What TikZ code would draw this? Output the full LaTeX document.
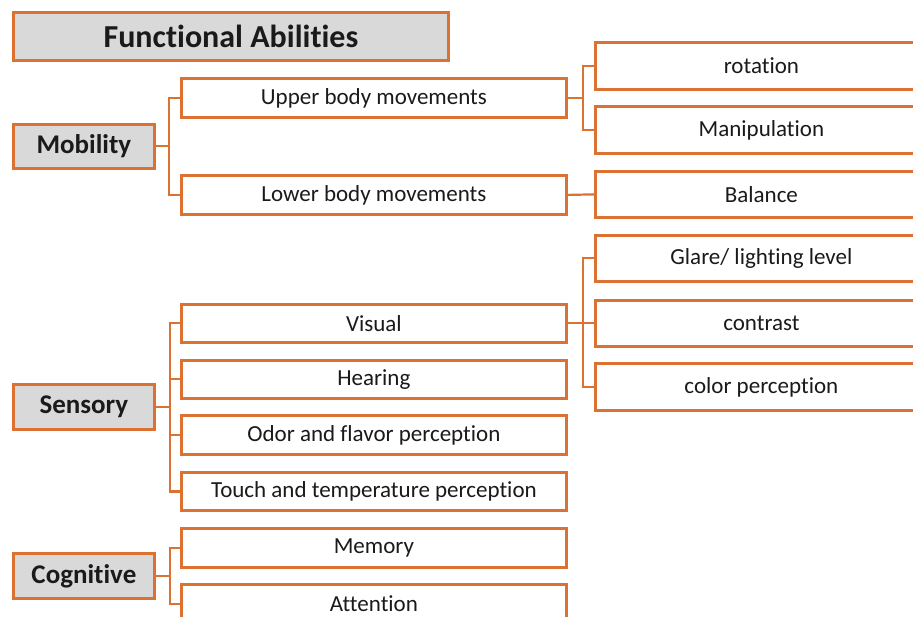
\documentclass[tikz,border=0pt]{standalone}
\usepackage{fontspec}
\setmainfont{Carlito}[RawFeature={-liga;-dlig;-clig;-calt}]
\definecolor{edge}{HTML}{DC7232}
\definecolor{catfill}{HTML}{D9D9D9}
\definecolor{ink}{HTML}{1A1A1A}
% keeps t and i as separate glyphs
\newcommand{\ti}{t\kern0pt i}
\tikzset{
  box/.style={draw=edge, line width=2.8pt, fill=white, anchor=north west,
    inner sep=0pt, text=ink, font=\fontsize{23}{25}\selectfont},
  catbox/.style={box, fill=catfill, font=\fontsize{27}{29}\selectfont\bfseries},
  titlebox/.style={box, fill=catfill, font=\fontsize{32}{34}\selectfont\bfseries},
  link/.style={draw=edge, line width=2.2pt},
}
\newcommand{\bx}[6]{\node[#1, minimum width=#4pt, minimum height=#5pt] (#2) at (#3) {#6};}
\begin{document}
\begin{tikzpicture}[x=1pt,y=-1pt]
\useasboundingbox (0,0) rectangle (913,617);
\clip (0,0) rectangle (913,617);
\fill[white] (0,0) rectangle (913,617);

% heading and category boxes
\bx{titlebox}{title}{12,11}{435}{48}{Func\ti onal Abili\ti es}
\bx{catbox}{mob}{12,123}{141}{44}{Mobility}
\bx{catbox}{sens}{12,383}{141}{45}{Sensory}
\bx{catbox}{cog}{12,552}{141}{45}{Cogni\ti ve}

% second level
\bx{box}{upper}{180,77}{385}{39}{Upper body movements}
\bx{box}{lower}{180,174}{385}{39}{Lower body movements}
\bx{box}{visual}{180,303}{385}{38}{Visual}
\bx{box}{hearing}{180,359}{385}{38}{Hearing}
\bx{box}{odor}{180,414}{385}{39}{Odor and flavor percep\ti on}
\bx{box}{touch}{180,471}{385}{38}{Touch and temperature percep\ti on}
\bx{box}{memory}{180,527}{385}{39}{Memory}
\bx{box}{attention}{180,583}{385}{39}{Atten\ti on}

% third level
\bx{box}{rotation}{594,41}{332}{47}{rota\ti on}
\bx{box}{manip}{594,105}{332}{47}{Manipula\ti on}
\bx{box}{balance}{594,170}{332}{46}{Balance}
\bx{box}{glare}{594,234}{332}{46}{Glare/ ligh\ti ng level}
\bx{box}{contrast}{594,299}{332}{46}{contrast}
\bx{box}{colorp}{594,362}{332}{47}{color percep\ti on}

% elbow connectors
\foreach \c in {upper,lower}
  \draw[link] (mob.east) -- ++(13,0) |- (\c.west);
\foreach \c in {visual,hearing,odor,touch}
  \draw[link] (sens.east) -- ++(14,0) |- (\c.west);
\foreach \c in {memory,attention}
  \draw[link] (cog.east) -- ++(14,0) |- (\c.west);
\foreach \c in {rotation,manip}
  \draw[link] (upper.east) -- ++(15,0) |- (\c.west);
\draw[link] (lower.east) -- (balance.west);
\foreach \c in {glare,contrast,colorp}
  \draw[link] (visual.east) -- ++(15,0) |- (\c.west);
\end{tikzpicture}
\end{document}
